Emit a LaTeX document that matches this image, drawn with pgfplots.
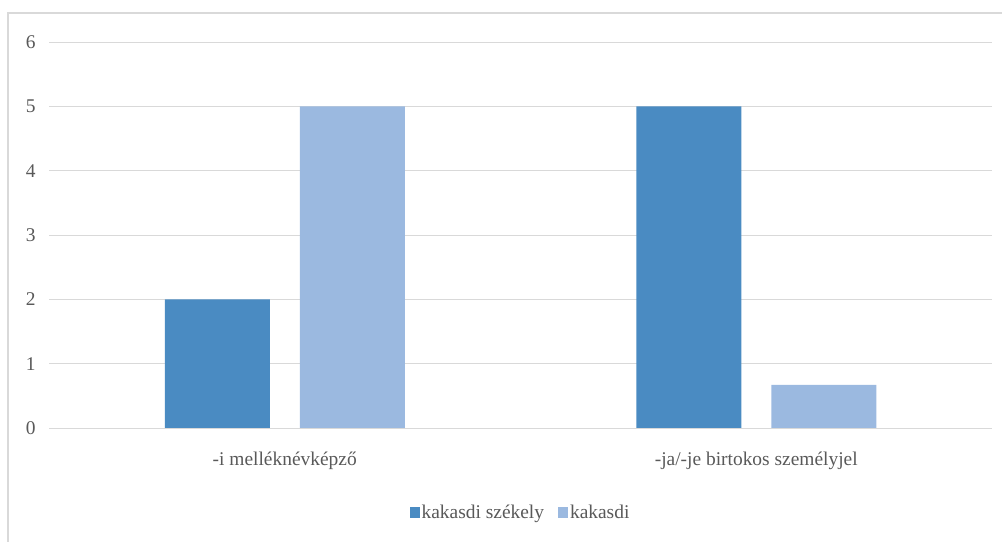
\documentclass[border=0pt]{standalone}
\usepackage{fontspec}
\setmainfont{Liberation Serif}
\usepackage{pgfplots}
\pgfplotsset{compat=1.18}
\definecolor{darkbar}{RGB}{74,139,194}
\definecolor{lightbar}{RGB}{155,185,224}
\definecolor{gridc}{RGB}{217,217,217}
\definecolor{txt}{RGB}{89,89,89}
\begin{document}
\begin{tikzpicture}
\path[use as bounding box] (0,0) rectangle (1002bp,542bp);
\draw[gridc, line width=1.5bp] (8bp,0) -- (8bp,529bp) -- (1002bp,529bp);
\begin{axis}[
  at={(49bp,114bp)}, anchor=south west,
  scale only axis, width=943bp, height=386bp,
  ymin=0, ymax=6, ytick={0,1,2,3,4,5,6},
  xmin=-0.5, xmax=1.5, xtick={0,1},
  xticklabels={-i melléknévképző, -ja/-je birtokos személyjel},
  ymajorgrids, grid style={gridc, line width=1bp},
  axis x line*=bottom, axis y line*=left,
  x axis line style={gridc, line width=1bp},
  y axis line style={draw=none},
  major tick length=0pt,
  ybar, bar width=105bp,
  tick label style={txt, font=\fontsize{19.5}{22}\selectfont},
  /pgf/number format/assume math mode=true,
  yticklabel style={xshift=-10bp},
  xticklabel style={yshift=-20bp},
  legend style={at={(0.5,-0.218)}, anchor=center, draw=none, legend columns=-1,
    font=\fontsize{19.5}{22}\selectfont, text=txt,
    /tikz/every even column/.append style={column sep=12bp}},
  legend image code/.code={\fill[#1] (0bp,-5.5bp) rectangle (10bp,5.5bp);},
]
\addplot[fill=darkbar, draw=none, bar shift=-67.5bp] coordinates {(0,2) (1,5)};
\addplot[fill=lightbar, draw=none, bar shift=67.5bp] coordinates {(0,5) (1,0.67)};
\legend{kakasdi székely, kakasdi}
\end{axis}
\end{tikzpicture}
\end{document}
